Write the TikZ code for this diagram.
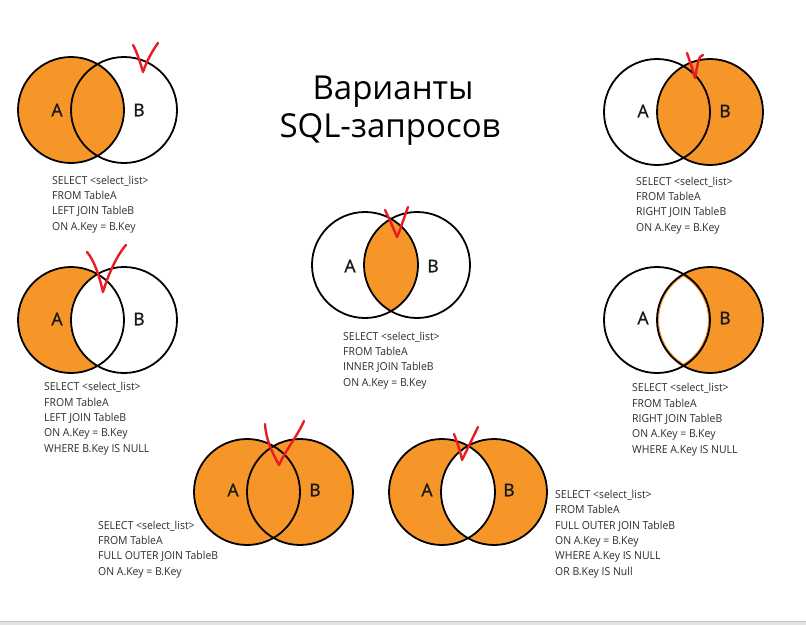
\documentclass[tikz,border=0pt]{standalone}
\usepackage{fontspec}
\setmainfont{Open Sans}
\newfontfamily\sqlfont[FakeStretch=0.95]{Open Sans}
\newfontfamily\titlefont{Open Sans}
\newfontfamily\lblfont[FakeBold=1.2]{Open Sans}
\definecolor{venn}{RGB}{246,150,40}
\definecolor{checkred}{RGB}{232,28,36}
\definecolor{stripgray}{RGB}{226,227,230}
\definecolor{sqltext}{RGB}{45,45,45}
\tikzset{
  ring/.style={draw=black, line width=1.8pt},
  lensedge/.style={draw=venn, line width=4pt},
  lbl/.style={font=\lblfont\fontsize{17.5}{17.5}\selectfont, text=black!90, inner sep=0pt},
  sql/.style={font=\sqlfont\fontsize{11}{15.3}\selectfont, text=sqltext, align=left, anchor=base west, inner sep=0pt},
  titletext/.style={font=\titlefont\fontsize{33}{33}\selectfont, anchor=base, inner sep=0pt},
  checkmark/.style={draw=checkred, line width=2.4pt, line cap=round, line join=round},
}
\begin{document}
\begin{tikzpicture}[x=1pt, y=-1pt]
\useasboundingbox (0,0) rectangle (806,625);
\fill[white] (0,0) rectangle (806,625);
\fill[stripgray] (0,621) rectangle (806,625);
\draw[gray!45, line width=0.8pt] (0,621) -- (806,621);

% centres
\coordinate (a1) at (71,110);  \coordinate (b1) at (124,110);
\coordinate (a2) at (657,112); \coordinate (b2) at (710,112);
\coordinate (a3) at (365,265); \coordinate (b3) at (417,265);
\coordinate (a4) at (71,320);  \coordinate (b4) at (124,320);
\coordinate (a5) at (657,320); \coordinate (b5) at (710,320);
\coordinate (a6) at (247,492); \coordinate (b6) at (300,492);
\coordinate (a7) at (442,492); \coordinate (b7) at (494,492);

% 1 LEFT JOIN
\fill[venn] (a1) circle[radius=53];
\draw[ring] (a1) circle[radius=53] (b1) circle[radius=53];
% 2 RIGHT JOIN
\fill[venn] (b2) circle[radius=53];
\draw[ring] (a2) circle[radius=53] (b2) circle[radius=53];
% 3 INNER JOIN
\begin{scope}
  \clip (a3) circle[radius=53];
  \fill[venn] (b3) circle[radius=53];
\end{scope}
\draw[ring] (a3) circle[radius=53] (b3) circle[radius=53];
% 4 LEFT only
\fill[venn] (a4) circle[radius=53];
\begin{scope}
  \clip (a4) circle[radius=53];
  \fill[white] (b4) circle[radius=53];
\end{scope}
\draw[ring] (a4) circle[radius=53] (b4) circle[radius=53];
% 5 RIGHT only
\fill[venn] (b5) circle[radius=53];
\begin{scope}
  \clip (a5) circle[radius=53];
  \clip (b5) circle[radius=53];
  \fill[white] (a5) circle[radius=53];
  \draw[lensedge] (a5) circle[radius=53] (b5) circle[radius=53];
\end{scope}
\draw[ring] (a5) circle[radius=53] (b5) circle[radius=53];
% 6 FULL OUTER
\fill[venn] (a6) circle[radius=53] (b6) circle[radius=53];
\draw[ring] (a6) circle[radius=53] (b6) circle[radius=53];
% 7 FULL OUTER without intersection
\fill[venn] (a7) circle[radius=53] (b7) circle[radius=53];
\begin{scope}
  \clip (a7) circle[radius=53];
  \fill[white] (b7) circle[radius=53];
\end{scope}
\draw[ring] (a7) circle[radius=53] (b7) circle[radius=53];

% A / B labels
\node[lbl] (la1) at (57,110) {A};  \node[lbl] (lb1) at (139,110) {B};
\node[lbl] (la2) at (643,111) {A}; \node[lbl] (lb2) at (725,111) {B};
\node[lbl] (la3) at (350,266) {A}; \node[lbl] (lb3) at (433,266) {B};
\node[lbl] (la4) at (57,319) {A};  \node[lbl] (lb4) at (139,319) {B};
\node[lbl] (la5) at (643,318) {A}; \node[lbl] (lb5) at (725,318) {B};
\node[lbl] (la6) at (233,490) {A}; \node[lbl] (lb6) at (315,490) {B};
\node[lbl] (la7) at (427,490) {A}; \node[lbl] (lb7) at (509,490) {B};

% SQL texts (base anchor = baseline of the last line)
\node[sql] (q1) at (52,230) {SELECT <select\_list>\\FROM TableA\\LEFT JOIN TableB\\ON A.Key = B.Key};
\node[sql] (q2) at (636,231) {SELECT <select\_list>\\FROM TableA\\RIGHT JOIN TableB\\ON A.Key = B.Key};
\node[sql] (q3) at (343,386) {SELECT <select\_list>\\FROM TableA\\INNER JOIN TableB\\ON A.Key = B.Key};
\node[sql] (q4) at (44,452) {SELECT <select\_list>\\FROM TableA\\LEFT JOIN TableB\\ON A.Key = B.Key\\WHERE B.Key IS NULL};
\node[sql] (q5) at (632,453) {SELECT <select\_list>\\FROM TableA\\RIGHT JOIN TableB\\ON A.Key = B.Key\\WHERE A.Key IS NULL};
\node[sql] (q6) at (98,575) {SELECT <select\_list>\\FROM TableA\\FULL OUTER JOIN TableB\\ON A.Key = B.Key};
\node[sql] (q7) at (555,575) {SELECT <select\_list>\\FROM TableA\\FULL OUTER JOIN TableB\\ON A.Key = B.Key\\WHERE A.Key IS NULL\\OR B.Key IS Null};

% title
\node[titletext] (t1) at (393,99) {Варианты};
\node[titletext] (t2) at (390,137) {SQL-запросов};

% red check marks
\draw[checkmark] (133,45) .. controls (137,52) and (140,62) .. (143,72) .. controls (147,60) and (153,50) .. (158,43);
\draw[checkmark] (687,53) .. controls (690,62) and (693,70) .. (695,78) .. controls (697,68) and (698,60) .. (700,57) -- (703,55);
\draw[checkmark] (385,210) .. controls (390,220) and (394,230) .. (397,237) .. controls (401,228) and (405,215) .. (408,207);
\draw[checkmark] (87,252) .. controls (94,260) and (99,275) .. (103,292) .. controls (108,275) and (117,255) .. (126,245);
\draw[checkmark] (265,424) .. controls (266,440) and (272,452) .. (279,465) .. controls (287,448) and (298,435) .. (304,421);
\draw[checkmark] (454,434) .. controls (457,442) and (460,450) .. (462,460) .. controls (467,450) and (473,437) .. (478,427);
\end{tikzpicture}
\end{document}
